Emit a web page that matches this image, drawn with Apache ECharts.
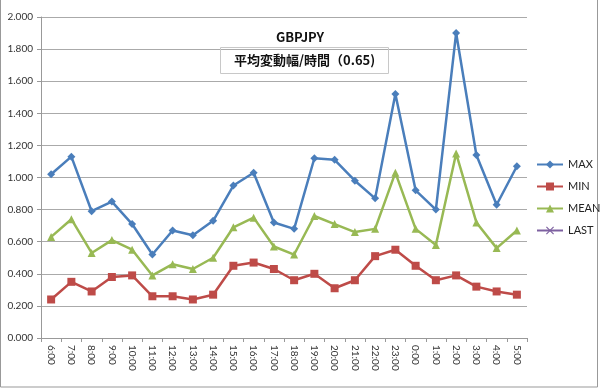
<!DOCTYPE html>
<html><head><meta charset="utf-8">
<script src="https://cdn.jsdelivr.net/npm/echarts@6/dist/echarts.min.js"></script>
<style>html,body{margin:0;padding:0;background:#fff}#c{width:600px;height:392px}</style>
</head><body><div id="c"></div>
<script>
var categories = ['6:00','7:00','8:00','9:00','10:00','11:00','12:00','13:00','14:00','15:00','16:00','17:00','18:00','19:00','20:00','21:00','22:00','23:00','0:00','1:00','2:00','3:00','4:00','5:00'];
var maxValues  = [1.02,1.13,0.79,0.85,0.71,0.52,0.67,0.64,0.73,0.95,1.03,0.72,0.68,1.12,1.11,0.98,0.87,1.52,0.92,0.80,1.90,1.14,0.83,1.07];
var minValues  = [0.24,0.35,0.29,0.38,0.39,0.26,0.26,0.24,0.27,0.45,0.47,0.43,0.36,0.40,0.31,0.36,0.51,0.55,0.45,0.36,0.39,0.32,0.29,0.27];
var meanValues = [0.63,0.74,0.53,0.61,0.55,0.39,0.46,0.43,0.50,0.69,0.75,0.57,0.52,0.76,0.71,0.66,0.68,1.03,0.68,0.58,1.15,0.72,0.56,0.67];
var lastValues = [];
var titleText = 'GBPJPY';
var subtitleText = '平均変動幅/時間（0.65)';

var font = 'Lato, "Noto Sans CJK JP", sans-serif';
var chart = echarts.init(document.getElementById('c'), null, {renderer:'canvas'});
function mk(name, data, color, symbol, size){
  return {name:name, type:'line', data:data, symbol:symbol, symbolSize:size,
    lineStyle:{color:color, width:2.5}, itemStyle:{color:color}, showAllSymbol:true, animation:false};
}
var crossPath = 'path://M1,0 L5,4 L9,0 L10,1 L6,5 L10,9 L9,10 L5,6 L1,10 L0,9 L4,5 L0,1 Z';
var lastSeries = mk('LAST', lastValues, '#7d60a0', crossPath, 8);
chart.setOption({
  animation:false,
  textStyle:{fontFamily:font},
  title:[
    {text:titleText, left:'center', top:26, textStyle:{fontSize:13, fontWeight:'bold', color:'#111', fontFamily:'"Noto Sans CJK JP", sans-serif'}},
    {text:subtitleText, left:220, top:47, padding:[7,14,7,14], borderColor:'#c8c8c8', borderWidth:1,
     textStyle:{fontSize:13, fontWeight:'bold', color:'#111', fontFamily:'"Noto Sans CJK JP", sans-serif'}}
  ],
  graphic:[{type:'rect', shape:{x:0.5, y:-2, width:597, height:389}, style:{fill:'none', stroke:'#999', lineWidth:1}, silent:true}],
  legend:{orient:'vertical', left:531, top:154, width:80, itemGap:11, itemWidth:26, itemHeight:10,
    textStyle:{fontSize:11, color:'#222', fontFamily:font},
    data:['MAX','MIN','MEAN','LAST']},
  grid:{left:41, right:73, top:17, bottom:54},
  xAxis:{type:'category', data:categories, boundaryGap:true,
    axisLine:{lineStyle:{color:'#999'}},
    axisTick:{show:true, length:4, lineStyle:{color:'#999'}},
    axisLabel:{rotate:-90, fontSize:10, color:'#333', margin:7, interval:0, fontFamily:font}},
  yAxis:{type:'value', min:0, max:2, interval:0.2,
    axisLine:{show:true, lineStyle:{color:'#999'}},
    axisTick:{show:true, length:4, lineStyle:{color:'#999'}},
    splitLine:{lineStyle:{color:'#aaa', width:1}},
    axisLabel:{formatter:function(v){return v.toFixed(3);}, fontSize:10, color:'#333', margin:8, fontFamily:font}},
  series:[
    mk('MAX', maxValues, '#4a7ebb', 'diamond', 8),
    mk('MIN', minValues, '#be4b48', 'rect', 8),
    mk('MEAN', meanValues, '#98b954', 'triangle', 8),
    lastSeries
  ]
});
</script></body></html>
